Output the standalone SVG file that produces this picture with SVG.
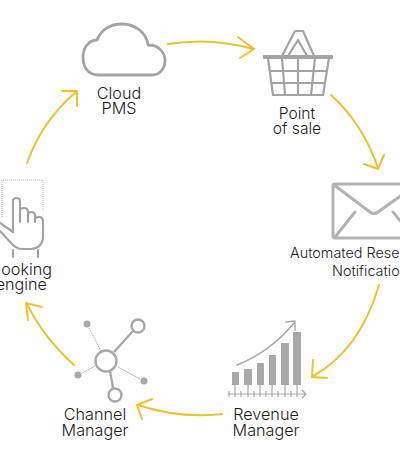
<svg xmlns="http://www.w3.org/2000/svg" width="400" height="464" viewBox="0 0 400 464">
<style>
.t{font-family:"Inter","Liberation Sans",sans-serif;font-weight:300;font-size:16.2px;fill:#1c1c1c;text-anchor:middle}
.n{font-size:14.4px}
.p{font-size:15.6px}
.e{text-anchor:end}.s{text-anchor:start}
.g{fill:none;stroke:#a4a4a4;stroke-width:2.2;stroke-linecap:round;stroke-linejoin:round}
.b{fill:#a9a9a9}
.y{fill:none;stroke:#f2c12e;stroke-width:2;stroke-linecap:round;stroke-linejoin:miter}
</style>
<rect width="400" height="464" fill="#fff"/>
<g id="connectors">
<path class="y" d="M168 44Q212 37 253 49M238 37L254 49L240 58"/>
<path class="y" d="M331 95Q363 124 378 168M364 164L378 169L384 155"/>
<path class="y" d="M379 285Q360 350 313 376M313 360L312 377L327 378"/>
<path class="y" d="M222 414Q180 419 138 405M152 399L137 405L142 419"/>
<path class="y" d="M74 365Q44 338 27 304M28 320L26 303L42 307"/>
<path class="y" d="M27 163Q42 121 76 92M62 91L77 91L77 106"/>
</g>
<g id="cloud-pms">
<path class="g" style="stroke-width:2.8" d="M98 75H152C160 75 165 68 165 61C165 52 158 45 149 45H148C147 33 135 24 122 24C110 24 101 30 97 40C88 40 83 49 83 57C83 68 89 75 98 75Z"/>
<text class="t" x="119" y="99">Cloud</text>
<text class="t" x="119" y="114">PMS</text>
</g>
<g id="point-of-sale">
<path class="g" d="M264 56H332V58H264ZM268 58L273 95H323L329 58M282 58L285 95M298 58V95M315 58L311 95M270 71H326M271 83H325M282 56L295 31H303L314 56M288 56L298 40L307 56"/>
<text class="t p" x="297" y="119">Point</text>
<text class="t p" x="297" y="134">of sale</text>
</g>
<g id="automated-reservation-notification">
<path d="M402 184H335Q333 184 333 186V236Q333 238 335 238H402M334 185L370 212Q374 215 378 212L402 195M335 237L355 212M393 212L402 223" fill="none" stroke="#b3b3b3" stroke-width="3" stroke-linecap="round" stroke-linejoin="round"/>
<text class="t s n" x="290" y="258">Automated Rese</text>
<text class="t s n" x="332" y="276">Notificatio</text>
</g>
<g id="revenue-manager">
<rect class="b" x="232" y="372" width="7" height="13"/>
<rect class="b" x="244" y="369" width="8" height="16"/>
<rect class="b" x="257" y="363" width="7" height="22"/>
<rect class="b" x="269" y="355" width="7" height="30"/>
<rect class="b" x="281" y="343" width="8" height="42"/>
<rect class="b" x="293" y="332" width="8" height="53"/>
<path d="M228 394H305M302 390L306 394L302 398M229 391V397M235 385V397M241 391V397M248 385V397M254 391V397M260 385V397M266 391V397M272 385V397M278 391V397M285 385V397M291 391V397M297 385V397" fill="none" stroke="#a9a9a9" stroke-width="1.2"/>
<path d="M237 365Q270 352 294 323M286 322L295 321L295 330" fill="none" stroke="#a9a9a9" stroke-width="1.5" stroke-linecap="round"/>
<text class="t" x="266" y="420">Revenue</text>
<text class="t" x="266" y="436">Manager</text>
</g>
<g id="channel-manager">
<circle cx="106" cy="361" r="10.5" fill="none" stroke="#a9a9a9" stroke-width="2.4"/>
<circle cx="138" cy="326" r="6.5" fill="none" stroke="#a9a9a9" stroke-width="2.4"/>
<circle cx="115" cy="395" r="6.5" fill="none" stroke="#a9a9a9" stroke-width="2.4"/>
<path d="M114 352L133 331M110 371L113 388" fill="none" stroke="#a9a9a9" stroke-width="2.4"/>
<path d="M89 328L100 349" fill="none" stroke="#a9a9a9" stroke-width="1" stroke-dasharray="1.5 1"/>
<path d="M82 373L95 366M118 367L140 379" fill="none" stroke="#bdbdbd" stroke-width="1"/>
<circle class="b" cx="87" cy="324" r="3.5"/>
<circle class="b" cx="78" cy="375" r="3.5"/>
<circle class="b" cx="144" cy="381" r="3.5"/>
<text class="t" x="95" y="420">Channel</text>
<text class="t" x="95" y="436">Manager</text>
</g>
<g id="booking-engine">
<path d="M2 217V180H43V212" fill="none" stroke="#b5b5b5" stroke-width="1" stroke-dasharray="1 1"/>
<path class="g" d="M0 223L13 232V201Q13 198 16.5 198Q20 198 20 201V222V211Q20 208 24 208Q28 208 28 212V222V215Q28 212 31.500 212Q35 212 35 216V222V220Q35 217 39 217Q43 217 43 221V236Q43 248 31 249H22Q17 249 12 244L0 231M13 250V257M38 250V257"/>
<text class="t e" x="52" y="275">ooking</text>
<text class="t e" x="47" y="290">engine</text>
</g>
</svg>
